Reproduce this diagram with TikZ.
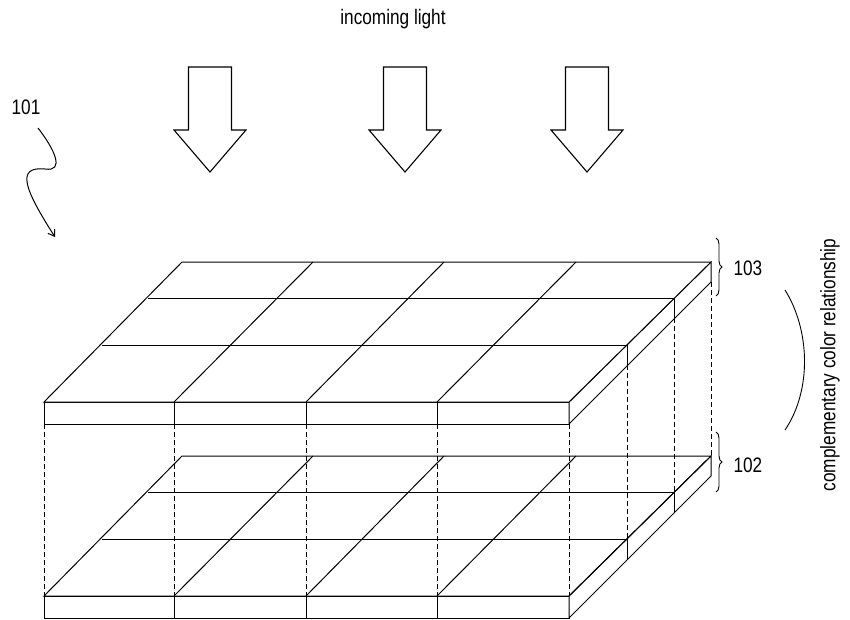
\documentclass[tikz,border=0pt]{standalone}
\usepackage{fontspec}
\setmainfont{Liberation Sans}
\usetikzlibrary{decorations.pathreplacing,arrows.meta}
\begin{document}
\begin{tikzpicture}[x=1pt,y=-1pt,line width=1pt,
  lbl/.style={font=\fontsize{21}{24}\selectfont, inner sep=0pt},
  hid/.style={dashed, line width=0.8pt, dash pattern=on 5pt off 3pt},
  bigarrow/.style={draw, line width=1.1pt, fill=white}]
\useasboundingbox (0,0) rectangle (850,619);
\node[lbl] (title) at (393,19) {\scalebox{0.82}[1]{incoming light}};
\node[lbl] (l101) at (26,107) {\scalebox{0.82}[1]{101}};
\coordinate (sq0) at (38,128);
\coordinate (sq1) at (55,237);
\draw[-{Straight Barb[length=6pt,width=8pt]}] (sq0) .. controls (55,150) and (65,172) .. (45,169) .. controls (15,166) and (25,190) .. (sq1);
% arrows
\foreach \cx/\nm in {210/a1,405/a2,587/a3}{
  \draw[bigarrow] (\cx-21.5,67) -- (\cx+21.5,67) -- (\cx+21.5,130) -- (\cx+36,130) -- (\cx,172) -- (\cx-36,130) -- (\cx-21.5,130) -- cycle;
}
% lower slab (top face unfilled so hidden lines show through)
\begin{scope}[yshift=-194]
  \draw[fill=white] (44,402) -- (569,402) -- (569,424) -- (44,424) -- cycle;
  \draw[fill=white] (569,402) -- (711,262) -- (711,282) -- (569,424) -- cycle;
  \draw (44,402) -- (182,262) -- (711,262) -- (569,402) -- cycle;
  \foreach \xf/\xb in {174/313,306/444,437/576}{ \draw (\xf,402) -- (\xb,262); \draw[line width=0.8pt] (\xf,402) -- (\xf,424);}
  \draw (148,298) -- (674.5,298);
  \draw (102,345) -- (627,345);
  \draw[line width=0.8pt] (674.5,298) -- (674.5,318);
  \draw[line width=0.8pt] (627,345) -- (627,365);
\end{scope}
% dashed connectors
\foreach \x in {44,174,306,437,569}{ \draw[hid] (\x,424) -- (\x,596); }
\draw[hid] (711,282) -- (711,456);
\draw[hid] (674.5,318) -- (674.5,492);
\draw[hid] (627,365) -- (627,539);
% upper slab
\draw[fill=white] (44,402) -- (569,402) -- (569,424) -- (44,424) -- cycle;
\draw[fill=white] (569,402) -- (711,262) -- (711,282) -- (569,424) -- cycle;
\draw[fill=white] (44,402) -- (182,262) -- (711,262) -- (569,402) -- cycle;
\foreach \xf/\xb in {174/313,306/444,437/576}{ \draw (\xf,402) -- (\xb,262); \draw[line width=0.8pt] (\xf,402) -- (\xf,424);}
\draw (148,298) -- (674.5,298);
\draw (102,345) -- (627,345);
\draw[line width=0.8pt] (674.5,298) -- (674.5,318);
\draw[line width=0.8pt] (627,345) -- (627,365);
% braces
\draw[line width=0.9pt,decorate,decoration={brace,amplitude=6pt}] (716,238) -- (716,296);
\node[lbl,anchor=west] (l103) at (733,268) {\scalebox{0.82}[1]{103}};
\draw[line width=0.9pt,decorate,decoration={brace,amplitude=6pt}] (716,432) -- (716,492);
\node[lbl,anchor=west] (l102) at (733,465) {\scalebox{0.82}[1]{102}};
\draw[line width=0.9pt] (785,290) .. controls (810,330) and (812,390) .. (785,430);
\node[lbl,rotate=90] (comp) at (830,365) {\scalebox{0.82}[1]{complementary color relationship}};
\end{tikzpicture}
\end{document}
